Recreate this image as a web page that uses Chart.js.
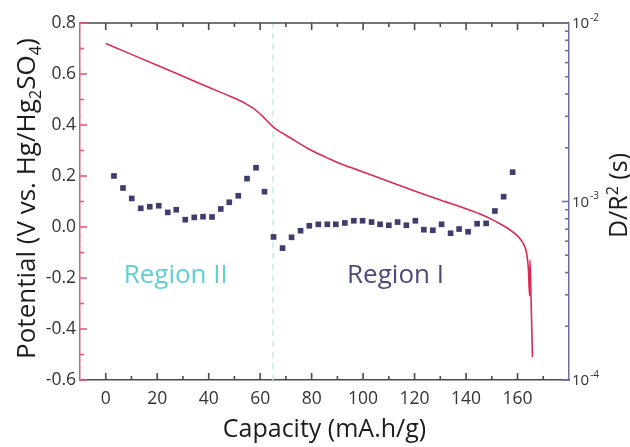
<!DOCTYPE html>
<html>
<head>
<meta charset="utf-8">
<script src="https://cdn.jsdelivr.net/npm/chart.js@4.4.1/dist/chart.umd.min.js"></script>
<style>
  html, body { margin:0; padding:0; background:#fff; }
</style>
</head>
<body>
<canvas id="c" width="630" height="447"></canvas>
<script>
// potential curve (left axis)
const CURVE_CAP = [0, 10, 20, 30, 40, 48, 52, 55, 57, 59, 61, 63, 65, 67, 69, 72, 75, 78, 82, 86, 90, 95, 100, 110, 120, 130, 140, 145, 150, 153, 156, 159, 161, 162.5, 163.5, 164.2, 164.7, 164.85, 165.3, 165.8];
const CURVE_V   = [0.72, 0.677, 0.634, 0.591, 0.548, 0.514, 0.496, 0.480, 0.468, 0.452, 0.434, 0.413, 0.393, 0.378, 0.366, 0.348, 0.329, 0.311, 0.290, 0.271, 0.253, 0.234, 0.216, 0.178, 0.141, 0.106, 0.072, 0.053, 0.030, 0.014, -0.004, -0.026, -0.046, -0.070, -0.102, -0.160, -0.27, -0.13, -0.30, -0.51];

// D/R^2 squares (right log axis)
const DIFF_CAP = [3.2, 6.7, 10.1, 13.6, 17.1, 20.6, 24.1, 27.4, 30.9, 34.4, 37.8, 41.3, 44.7, 48.0, 51.5, 54.9, 58.4, 61.7,
                  65.2, 68.7, 72.2, 75.7, 79.1, 82.6, 86.1, 89.4, 92.9, 96.4, 99.8, 103.3, 106.6, 110.0, 113.4, 116.8, 120.3,
                  123.6, 127.1, 130.5, 134.0, 137.3, 140.8, 144.3, 147.8, 151.2, 154.6, 158.1];
const DIFF_VAL = [1.39e-3, 1.19e-3, 1.04e-3, 9.16e-4, 9.35e-4, 9.47e-4, 8.69e-4, 8.99e-4, 7.91e-4, 8.15e-4, 8.22e-4, 8.19e-4, 9.08e-4, 9.90e-4, 1.077e-3, 1.343e-3, 1.546e-3, 1.135e-3,
                  6.33e-4, 5.48e-4, 6.30e-4, 6.86e-4, 7.31e-4, 7.45e-4, 7.45e-4, 7.45e-4, 7.58e-4, 7.80e-4, 7.80e-4, 7.67e-4, 7.45e-4, 7.36e-4, 7.67e-4, 7.36e-4, 7.80e-4,
                  6.95e-4, 6.90e-4, 7.45e-4, 6.64e-4, 7.01e-4, 6.77e-4, 7.51e-4, 7.54e-4, 8.85e-4, 1.064e-3, 1.46e-3];

const X_TICKS = [0, 20, 40, 60, 80, 100, 120, 140, 160];
const X_MINOR = [10, 30, 50, 70, 90, 110, 130, 150, 170];
const Y_TICKS = [-0.6, -0.4, -0.2, 0.0, 0.2, 0.4, 0.6, 0.8];
const Y_MINOR = [-0.5, -0.3, -0.1, 0.1, 0.3, 0.5, 0.7];
const R_TICKS = [1e-4, 1e-3, 1e-2];
const R_EXP   = ['-4', '-3', '-2'];
const DIVIDER_X = 65;
const REGION_LABELS = ['Region II', 'Region I'];
const REGION_X = [27.2, 112.6];
const REGION_Y = -0.22;

const FONT = "'Open Sans', sans-serif";
const C_CURVE = '#dc2a55', C_LEFT = '#e45a7c', C_RIGHT = '#6f6ea4', C_FRAME = '#4a4a4a';
const C_SQ = '#3e3d6e', C_DIV = '#c3ecdf', C_TEXT = '#333333', C_TITLE = '#1c1c1c';
const REGION_COLORS = ['#5ecfd2', '#4b4a7c'];

function rich(ctx, parts, size) {
  // parts: [text, mode] mode 0 normal, 1 subscript, 2 superscript
  let w = 0;
  parts.forEach(p => { ctx.font = (p[1] ? size * 0.64 : size) + 'px ' + FONT; w += ctx.measureText(p[0]).width; });
  let x = -w / 2;
  parts.forEach(p => {
    ctx.font = (p[1] ? size * 0.64 : size) + 'px ' + FONT;
    let dy = p[1] === 1 ? size * 0.22 : (p[1] === 2 ? -size * 0.38 : 0);
    ctx.fillText(p[0], x, dy);
    x += ctx.measureText(p[0]).width;
  });
}

const deco = {
  id: 'deco',
  afterDraw(chart) {
    const {ctx, chartArea: a, scales} = chart;
    const sx = scales.x, sy = scales.y, sr = scales.y2;
    const ln = (x1, y1, x2, y2) => { ctx.beginPath(); ctx.moveTo(x1, y1); ctx.lineTo(x2, y2); ctx.stroke(); };
    ctx.save();
    ctx.lineWidth = 1.6;
    ctx.strokeStyle = C_FRAME;
    ln(a.left, a.top, a.right, a.top);
    X_TICKS.forEach(v => { const p = sx.getPixelForValue(v); ln(p, a.bottom, p, a.bottom - 7); ln(p, a.top, p, a.top + 7); });
    X_MINOR.forEach(v => { const p = sx.getPixelForValue(v); ln(p, a.bottom, p, a.bottom - 4); ln(p, a.top, p, a.top + 4); });

    ctx.strokeStyle = C_LEFT;
    Y_TICKS.forEach(v => { const p = sy.getPixelForValue(v); ln(a.left, p, a.left + 7, p); });
    Y_MINOR.forEach(v => { const p = sy.getPixelForValue(v); ln(a.left, p, a.left + 4, p); });

    ctx.strokeStyle = C_RIGHT;
    R_TICKS.forEach(v => { const p = sr.getPixelForValue(v); ln(a.right, p, a.right - 7, p); });
    [1e-4, 1e-3].forEach(d => { for (let k = 2; k < 10; k++) { const p = sr.getPixelForValue(k * d); ln(a.right, p, a.right - 4, p); } });

    // right tick labels 10^n
    ctx.fillStyle = C_TEXT;
    ctx.textBaseline = 'middle';
    ctx.textAlign = 'left';
    R_TICKS.forEach((v, i) => {
      const p = sr.getPixelForValue(v);
      ctx.font = '15px ' + FONT;
      ctx.fillText('10', a.right + 3, p + 1);
      const w = ctx.measureText('10').width;
      ctx.font = '10px ' + FONT;
      ctx.fillText(R_EXP[i], a.right + 3 + w + 1, p - 5);
    });

    // axis titles
    ctx.fillStyle = C_TITLE;
    ctx.textBaseline = 'alphabetic';
    ctx.textAlign = 'left';
    ctx.save();
    ctx.translate(35, (a.top + a.bottom) / 2 - 3);
    ctx.rotate(-Math.PI / 2);
    rich(ctx, [['Potential (V vs. Hg/Hg', 0], ['2', 1], ['SO', 0], ['4', 1], [')', 0]], 26);
    ctx.restore();
    ctx.save();
    ctx.translate(627, (a.top + a.bottom) / 2 - 6);
    ctx.rotate(-Math.PI / 2);
    rich(ctx, [['D/R', 0], ['2', 2], [' (s)', 0]], 25);
    ctx.restore();

    // region labels
    ctx.font = '26px ' + FONT;
    ctx.textAlign = 'center';
    REGION_LABELS.forEach((t, i) => {
      ctx.fillStyle = REGION_COLORS[i];
      ctx.fillText(t, sx.getPixelForValue(REGION_X[i]), sy.getPixelForValue(REGION_Y));
    });
    ctx.restore();
  }
};

new Chart(document.getElementById('c'), {
  type: 'scatter',
  data: {
    datasets: [
      { data: DIFF_CAP.map((x, i) => ({x, y: DIFF_VAL[i]})), yAxisID: 'y2', pointStyle: 'rect', pointRadius: 4,
        backgroundColor: C_SQ, borderWidth: 0, order: 1 },
      { data: CURVE_CAP.map((x, i) => ({x, y: CURVE_V[i]})), yAxisID: 'y', showLine: true, pointRadius: 0,
        borderColor: C_CURVE, borderWidth: 1.6, cubicInterpolationMode: 'monotone', order: 2 },
      { data: [{x: DIVIDER_X, y: -0.6}, {x: DIVIDER_X, y: 0.8}], yAxisID: 'y', showLine: true, pointRadius: 0,
        borderColor: C_DIV, borderWidth: 1.5, borderDash: [6, 5], order: 3 }
    ]
  },
  options: {
    responsive: false,
    animation: false,
    layout: { padding: { top: 23, left: 0, right: 0, bottom: 0 } },
    plugins: { legend: { display: false }, tooltip: { enabled: false } },
    scales: {
      x: {
        type: 'linear', min: -10, max: 180,
        afterBuildTicks: s => { s.ticks = X_TICKS.map(v => ({value: v})); },
        afterFit: s => { s.height = 67; },
        ticks: { color: C_TEXT, font: { family: FONT, size: 17.5 }, padding: 9, maxRotation: 0 },
        grid: { display: false, drawTicks: false },
        border: { color: C_FRAME, width: 1.5 },
        title: { display: true, text: 'Capacity (mA.h/g)', color: C_TITLE, font: { family: FONT, size: 25 }, padding: { top: 0, bottom: 2 } }
      },
      y: {
        type: 'linear', position: 'left', min: -0.6, max: 0.8,
        afterBuildTicks: s => { s.ticks = Y_TICKS.map(v => ({value: v})); },
        afterFit: s => { s.width = 80; },
        ticks: { color: C_TEXT, font: { family: FONT, size: 17.5 }, padding: 4, callback: v => v.toFixed(1) },
        grid: { display: false, drawTicks: false },
        border: { color: C_LEFT, width: 1.5 }
      },
      y2: {
        type: 'logarithmic', position: 'right', min: 1e-4, max: 1e-2,
        afterFit: s => { s.width = 61; },
        ticks: { display: false },
        grid: { display: false, drawTicks: false },
        border: { color: C_RIGHT, width: 1.5 }
      }
    }
  },
  plugins: [deco]
});
</script>
</body>
</html>
